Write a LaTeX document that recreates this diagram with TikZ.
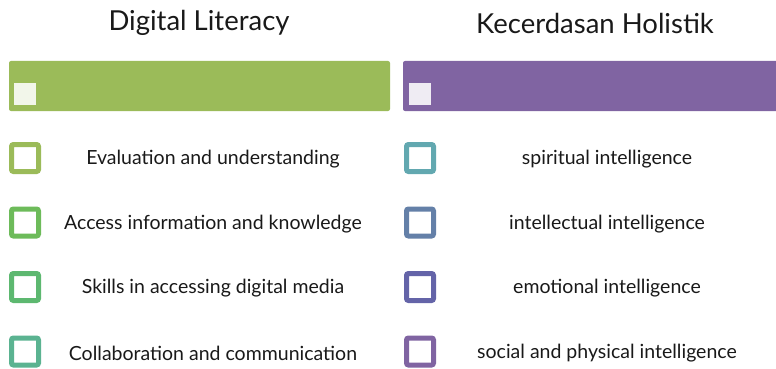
\documentclass[tikz,border=0pt]{standalone}
\usepackage{fontspec}
\setmainfont{Lato}
\usepackage{xcolor}
\usetikzlibrary{positioning}

\definecolor{barVert}{HTML}{9BBB59}
\definecolor{barViolet}{HTML}{8064A2}
\definecolor{vertA}{HTML}{9BBB59}
\definecolor{vertB}{HTML}{6DBB5A}
\definecolor{vertC}{HTML}{5DB870}
\definecolor{vertD}{HTML}{5BB391}
\definecolor{bleuA}{HTML}{62A8B0}
\definecolor{bleuB}{HTML}{6480A8}
\definecolor{bleuC}{HTML}{6464A8}
\definecolor{bleuD}{HTML}{8064A2}

\begin{document}
\begin{tikzpicture}[
			x=1pt, y=-1pt,
			node distance=32.5pt,
			% Styles des titres et des barres
			titre/.style={font=\fontsize{27.5}{32}\selectfont, text=black!90},
			barre/.style={rounded corners=2pt, draw=none},
			carreBlanc/.style={fill=white, fill opacity=0.88, minimum size=22pt, inner sep=0pt},
			% Styles des listes
			case/.style={draw=#1, line width=5pt, rounded corners=2pt, fill=white, minimum size=27pt, inner sep=0pt},
			texte/.style={font=\fontsize{19.5}{23}\selectfont, text=black!90, yshift=-1.5pt},
			]

			\useasboundingbox (0,0) rectangle (776,369);

			% Titres
			\node[titre] (titreG) at (199,23) {Digital Literacy};
			\node[titre] (titreD) at (595,23) {Kecerdasan Holistik};

			% Barres
			\fill[barre, barVert] (9,61) rectangle (390,111);
			\fill[barre, barViolet] (403,61) rectangle (782,111);
			\node[carreBlanc] (blancG) at (25,94) {};
			\node[carreBlanc] (blancD) at (420,94) {};

			% Colonne de gauche
			\coordinate (colG) at (213,0);
			\node[case=vertA] (g1) at (25,158) {};
			\node[case=vertB, below=of g1] (g2) {};
			\node[case=vertC, below=of g2] (g3) {};
			\node[case=vertD, below=of g3] (g4) {};

			\node[texte] (tg1) at (g1 -| colG) {Evaluation and understanding};
			\node[texte] (tg2) at (g2 -| colG) {Access information and knowledge};
			\node[texte] (tg3) at (g3 -| colG) {Skills in accessing digital media};
			\node[texte] (tg4) at (g4 -| colG) {Collaboration and communication};

			% Colonne de droite
			\coordinate (colD) at (607,0);
			\node[case=bleuA] (d1) at (420,158) {};
			\node[case=bleuB, below=of d1] (d2) {};
			\node[case=bleuC, below=of d2] (d3) {};
			\node[case=bleuD, below=of d3] (d4) {};

			\node[texte] (td1) at (d1 -| colD) {spiritual intelligence};
			\node[texte] (td2) at (d2 -| colD) {intellectual intelligence};
			\node[texte] (td3) at (d3 -| colD) {emotional intelligence};
			\node[texte] (td4) at (d4 -| colD) {social and physical intelligence};

		\end{tikzpicture}
\end{document}
